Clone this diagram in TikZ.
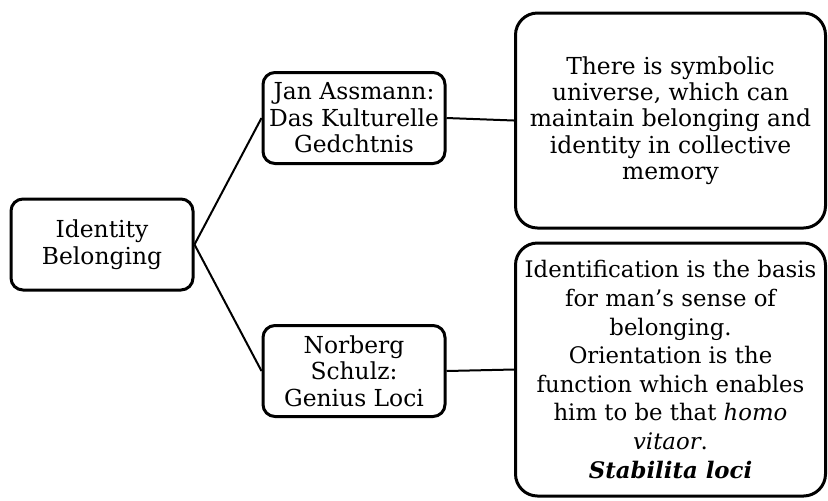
\documentclass[tikz,border=0pt]{standalone}
\usepackage{fontspec}
\setmainfont{DejaVu Serif}
\begin{document}
\begin{tikzpicture}[
  x=0.5pt, y=-0.5pt,
  font=\fontsize{11.7}{13.2}\selectfont,
  topic/.style={draw, line width=1.5pt, rounded corners=6pt, align=center,
                inner sep=0pt, minimum width=91pt, minimum height=45.5pt},
  note/.style={draw, line width=1.5pt, rounded corners=11pt, align=center,
               inner sep=0pt, minimum width=155pt},
  link/.style={line width=1pt},
]
  \useasboundingbox (0,0) rectangle (828,500);
  % root
  \node[topic] (root) at (102,244.5) {Identity\\Belonging};
  % authors
  \node[topic] (assmann) at (354,118) {Jan Assmann:\\Das Kulturelle\\Gedchtnis};
  \node[topic] (schulz) at (354,371) {Norberg\\Schulz:\\Genius Loci};
  % explanations
  \node[note, minimum height=107.5pt] (memory) at (670.5,120.5)
    {There is symbolic\\universe, which can\\maintain belonging and\\identity in collective\\memory};
  \node[note, minimum height=126.5pt, font=\fontsize{11.4}{14.3}\selectfont] (place) at (670.5,369.5)
    {Identification is the basis\\for man’s sense of\\belonging.\\Orientation is the\\function which enables\\him to be that \textit{homo}\\\textit{vitaor}.\\\textbf{\textit{Stabilita loci}}};
  \draw[link] (root.east) -- (assmann.west);
  \draw[link] (root.east) -- (schulz.west);
  \draw[link] (assmann.east) -- (memory.west);
  \draw[link] (schulz.east) -- (place.west);
\end{tikzpicture}
\end{document}
